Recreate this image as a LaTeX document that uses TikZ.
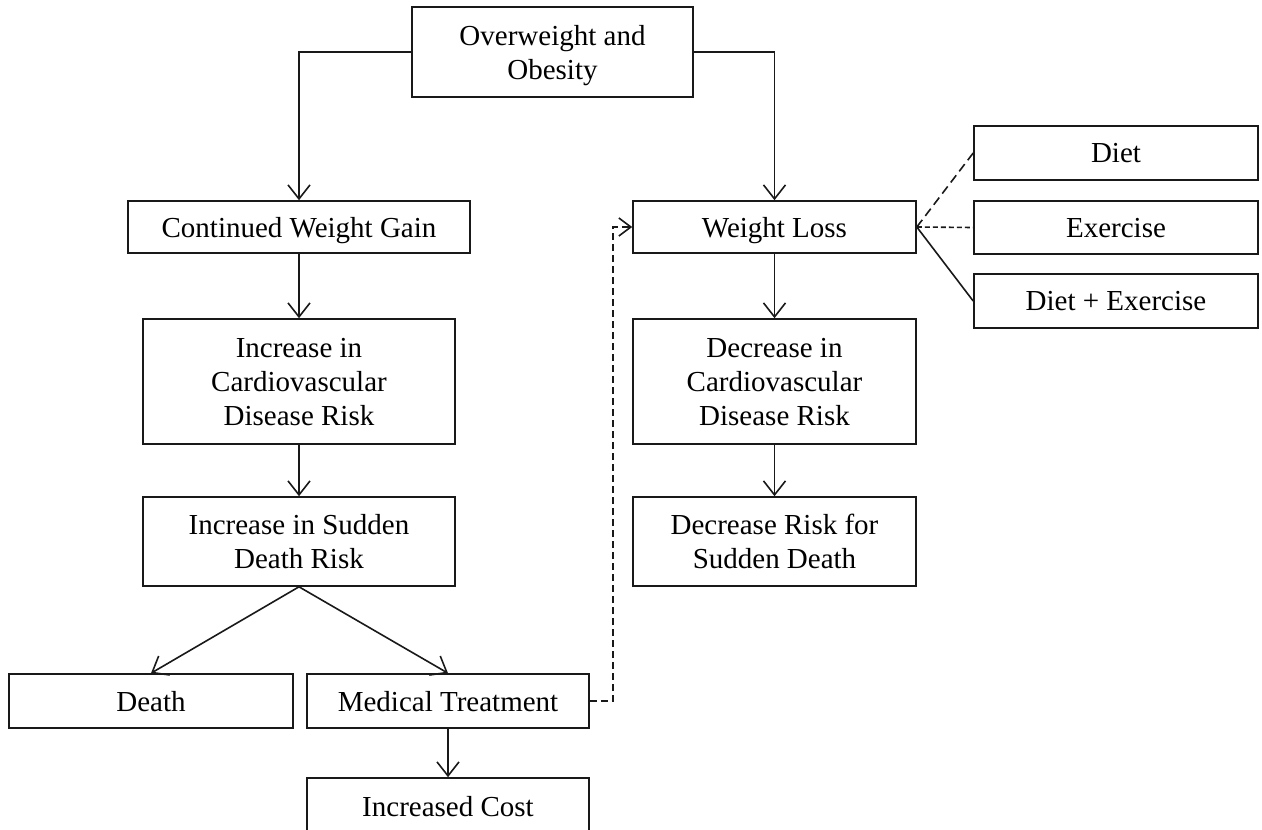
\documentclass[tikz,border=0pt]{standalone}
\usepackage{fontspec}
\setmainfont{Liberation Serif}
\usetikzlibrary{arrows.meta}
\tikzset{
  box/.style={draw=black!90, line width=1.6pt, inner sep=0pt, align=center,
    text depth=0pt, font=\fontsize{29}{34}\selectfont},
  conn/.style={draw=black!90, line width=1.6pt},
  arr/.style={conn, -{Straight Barb[length=14pt,width=22pt,line width=1.6pt]}},
  dashA/.style={conn, dash pattern=on 7pt off 4pt},
  dashB/.style={conn, dash pattern=on 9pt off 5pt},
  dashC/.style={conn, dash pattern=on 5pt off 3pt},
}
\begin{document}
\begin{tikzpicture}[x=1pt,y=-1pt]
\useasboundingbox (0,0) rectangle (1262,830);
% left column
\node[box, minimum width=281pt, minimum height=90pt] (ow) at (552.5,52) {Overweight and\\Obesity};
\node[box, minimum width=342pt, minimum height=52pt] (cwg) at (299,227) {Continued Weight Gain};
\node[box, minimum width=312pt, minimum height=125pt] (cvd) at (299,381.5) {Increase in\\Cardiovascular\\Disease Risk};
\node[box, minimum width=312pt, minimum height=89pt] (sdr) at (299,541.5) {Increase in Sudden\\Death Risk};
\node[box, minimum width=284pt, minimum height=54pt] (death) at (151,701) {Death};
\node[box, minimum width=282pt, minimum height=54pt] (mt) at (448,701) {Medical Treatment};
\node[box, minimum width=282pt, minimum height=56pt] (cost) at (448,806) {Increased Cost};
% right column
\node[box, minimum width=283pt, minimum height=52pt] (wl) at (774.5,227) {Weight Loss};
\node[box, minimum width=283pt, minimum height=125pt] (dcvd) at (774.5,381.5) {Decrease in\\Cardiovascular\\Disease Risk};
\node[box, minimum width=283pt, minimum height=89pt] (drisk) at (774.5,541.5) {Decrease Risk for\\Sudden Death};
% options
\node[box, minimum width=284pt, minimum height=54pt] (diet) at (1116,153) {Diet};
\node[box, minimum width=284pt, minimum height=53pt] (ex) at (1116,227.5) {Exercise};
\node[box, minimum width=284pt, minimum height=54pt] (de) at (1116,301) {Diet + Exercise};
% connectors
\draw[arr] (ow.west) -| (cwg.north);
\draw[arr] (ow.east) -| (wl.north);
\draw[arr] (cwg) -- (cvd);
\draw[arr] (cvd) -- (sdr);
\draw[arr] (sdr.south) -- (death.north);
\draw[arr] (sdr.south) -- (mt.north);
\draw[arr] (mt) -- (cost);
\draw[arr] (wl) -- (dcvd);
\draw[arr] (dcvd) -- (drisk);
\draw[dashA, -{Straight Barb[length=12pt,width=18pt,line width=1.6pt]}] (mt.east) -- ++(23,0) |- (wl.west);
\draw[dashB] (wl.east) -- (diet.west);
\draw[dashC] (wl.east) -- (ex.west);
\draw[conn] (wl.east) -- (de.west);
\end{tikzpicture}
\end{document}
